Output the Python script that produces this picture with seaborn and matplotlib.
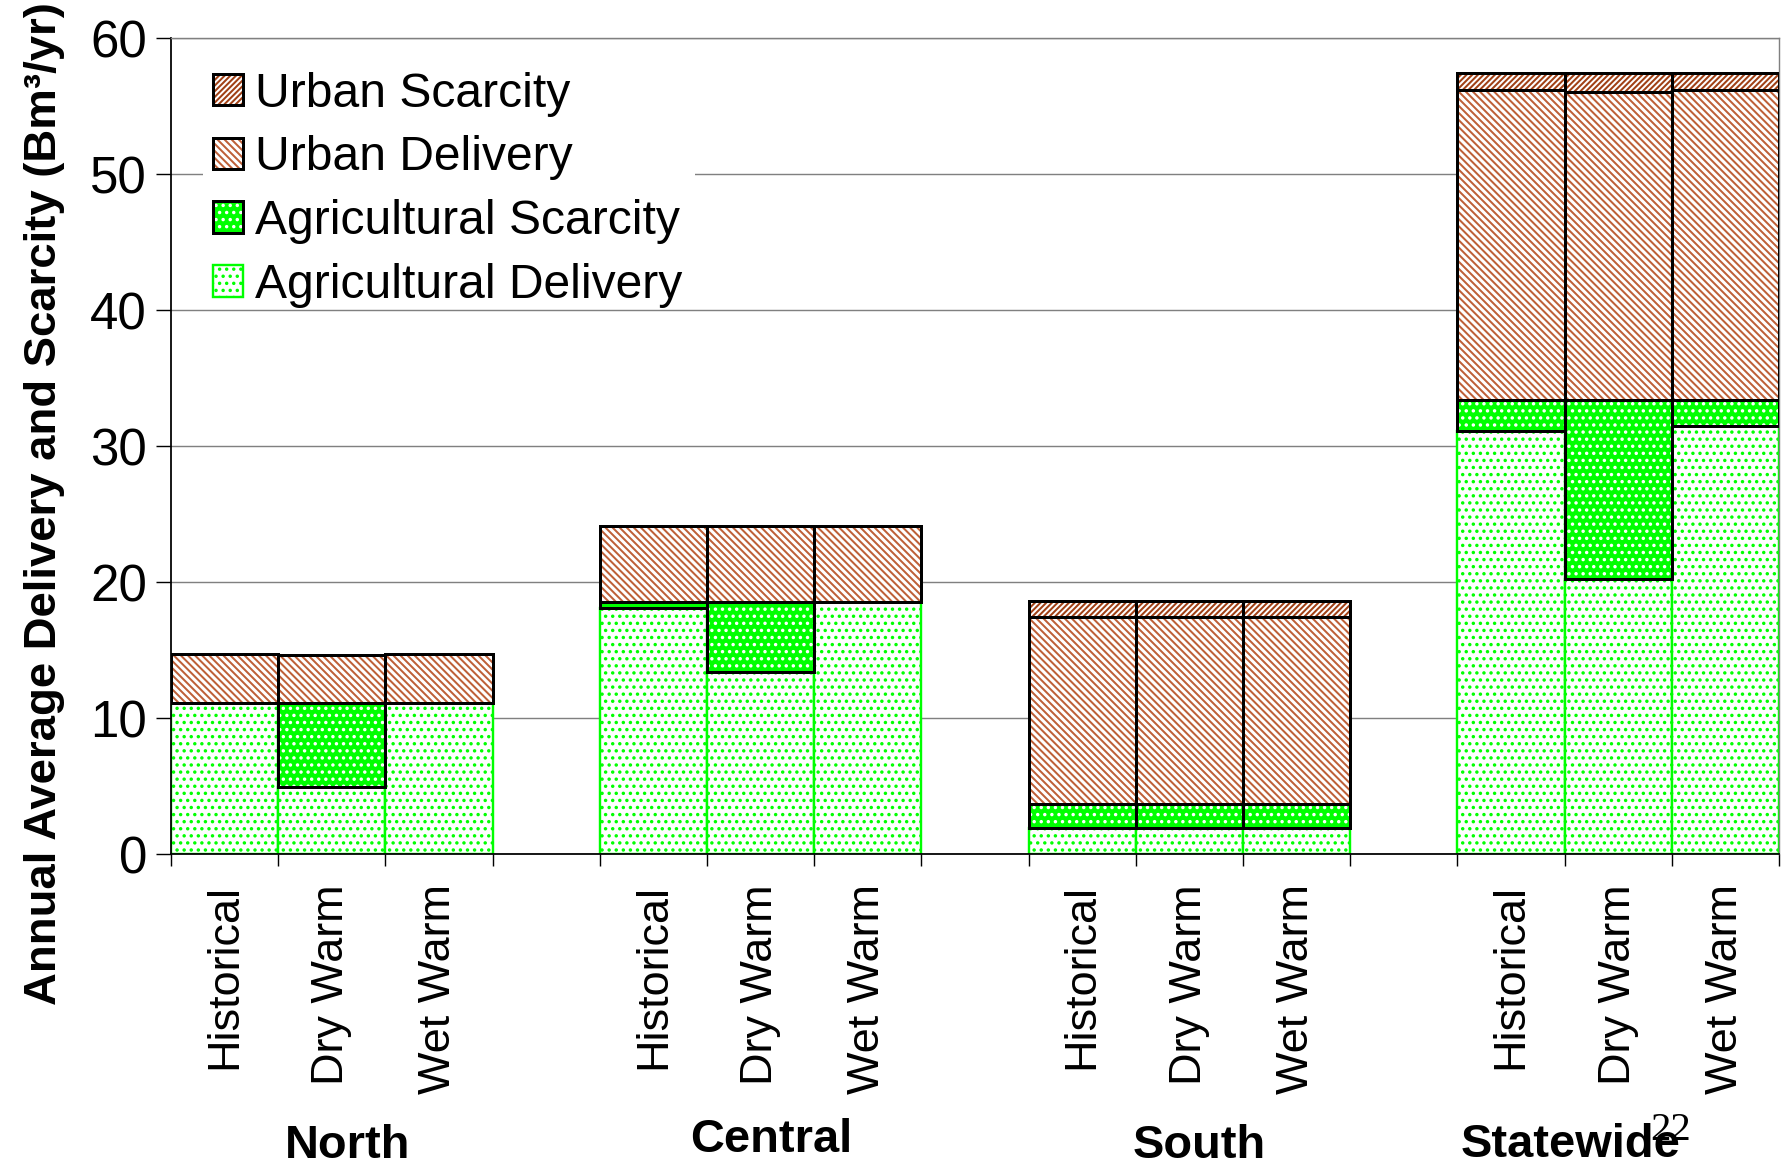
import numpy as np
import pandas as pd
import matplotlib
matplotlib.use("Agg")
import matplotlib.pyplot as plt
import seaborn as sns
from matplotlib.patches import Patch, Rectangle
from matplotlib.legend_handler import HandlerTuple
from matplotlib.ticker import NullFormatter
from matplotlib.transforms import blended_transform_factory

# ---------------- data ----------------
regions = ["North", "Central", "South", "Statewide"]
scenarios = ["Historical", "Dry Warm", "Wet Warm"]
ag_delivery    = [11.1, 4.9, 11.1, 18.1, 13.4, 18.5, 1.9, 1.9, 1.9, 31.1, 20.2, 31.5]
ag_scarcity    = [0.0, 6.2, 0.0, 0.4, 5.1, 0.0, 1.8, 1.8, 1.8, 2.3, 13.2, 1.9]
urban_delivery = [3.6, 3.5, 3.6, 5.6, 5.6, 5.6, 13.7, 13.7, 13.7, 22.8, 22.6, 22.8]
urban_scarcity = [0.0, 0.0, 0.0, 0.0, 0.0, 0.0, 1.2, 1.2, 1.2, 1.2, 1.4, 1.2]
yticks = [0, 10, 20, 30, 40, 50, 60]
legend_labels = ["Urban Scarcity", "Urban Delivery", "Agricultural Scarcity", "Agricultural Delivery"]
ylabel = "Annual Average Delivery and Scarcity (Bm\u00b3/yr)"
page_number = "22"

# ---------------- style ----------------
DPI = 85
W, H = 1788, 1168
def pt(px):
    return px * 72.0 / DPI

sns.set_style("white")
plt.rcParams["font.family"] = ["Liberation Sans", "DejaVu Sans"]
plt.rcParams["hatch.linewidth"] = 1.7
for k in ["text.color", "axes.labelcolor", "xtick.color", "ytick.color"]:
    plt.rcParams[k] = "black"

URB_D = "#BE6038"
URB_S = "#A04015"
GREEN = "#00FF00"
EDGE_LW = pt(3.0)
H_URB_D = "\\" * 4      # dense falling diagonal lines
H_URB_S = "/" * 5       # denser rising diagonal lines
H_DOTS = ".."

n_s = len(scenarios)
slot = n_s + 1
xpos = np.array([g * slot + s + 0.5 for g in range(len(regions)) for s in range(n_s)])

df = pd.DataFrame({
    "region": np.repeat(regions, n_s),
    "scenario": scenarios * len(regions),
    "x": xpos,
    "ag_del": ag_delivery,
    "ag_scar": ag_scarcity,
    "urb_del": urban_delivery,
    "urb_scar": urban_scarcity,
})
b_ag_scar = df["ag_del"].to_numpy()
b_urb_del = b_ag_scar + df["ag_scar"].to_numpy()
b_urb_scar = b_urb_del + df["urb_del"].to_numpy()

fig = plt.figure(figsize=(W / DPI, H / DPI), dpi=DPI)
ax = fig.add_axes([171 / W, 1 - 854 / H, (1779 - 171) / W, (854 - 38) / H])


def hatch_layer(col, bottom, face, hcol, hatch, lw=0.0):
    sns.barplot(data=df, x="x", y=col, native_scale=True, orient="x", width=1,
                errorbar=None, saturation=1, color=face, edgecolor=hcol,
                linewidth=lw, hatch=hatch, bottom=bottom, ax=ax, zorder=2)


def outline_layer(col, bottom, lw=EDGE_LW):
    sns.barplot(data=df, x="x", y=col, native_scale=True, orient="x", width=1,
                errorbar=None, saturation=1, fill=False, color="black",
                linewidth=lw, bottom=bottom, ax=ax, zorder=3)


# agricultural delivery (white with green dots, green edge)
hatch_layer("ag_del", None, "white", GREEN, H_DOTS, lw=pt(2.4))
# agricultural scarcity (green with white dots)
hatch_layer("ag_scar", b_ag_scar, GREEN, "white", H_DOTS)
# urban delivery (white with brown falling lines)
hatch_layer("urb_del", b_urb_del, "white", URB_D, H_URB_D)
# urban scarcity (white with dense darker rising lines)
hatch_layer("urb_scar", b_urb_scar, "white", URB_S, H_URB_S)

outline_layer("ag_scar", b_ag_scar)
outline_layer("urb_del", b_urb_del)
outline_layer("urb_scar", b_urb_scar)

# ---------------- axes ----------------
ax.set_xlim(0, slot * len(regions) - 1)
ax.set_ylim(0, 60)
ax.set_xlabel("")
ax.set_ylabel("")
ax.set_yticks(yticks)
ax.set_xticks(np.arange(0, slot * len(regions)))
ax.xaxis.set_major_formatter(NullFormatter())
ax.set_xticks(xpos, minor=True)
ax.set_xticklabels(scenarios * len(regions), minor=True)
ax.tick_params(axis="x", which="major", length=pt(12), width=1.2, color="black",
               direction="out", bottom=True)
ax.tick_params(axis="x", which="minor", length=0, pad=pt(30), labelsize=pt(45),
               labelrotation=90, bottom=True, labelcolor="black")
ax.tick_params(axis="y", length=pt(15), width=1.2, color="black", pad=pt(9),
               labelsize=pt(51), direction="out", left=True, labelcolor="black")
ax.yaxis.grid(True, color="#808080", lw=1.2)
ax.xaxis.grid(False)
ax.set_axisbelow(True)
for s in ["left", "bottom"]:
    ax.spines[s].set_color("black")
    ax.spines[s].set_linewidth(1.5)
for s in ["top", "right"]:
    ax.spines[s].set_color("#808080")
    ax.spines[s].set_linewidth(1.2)

# white block behind the legend that hides part of the 50 gridline
ax.add_patch(Rectangle(((203 - 171) / 1608, 0.78), (695 - 203) / 1608, 0.09,
                       transform=ax.transAxes, facecolor="white", edgecolor="none",
                       zorder=1))

# ---------------- legend ----------------
handles = [
    (Patch(facecolor="white", edgecolor=URB_S, hatch=H_URB_S, lw=0),
     Patch(facecolor="none", edgecolor="black", lw=EDGE_LW)),
    (Patch(facecolor="white", edgecolor=URB_D, hatch=H_URB_D, lw=0),
     Patch(facecolor="none", edgecolor="black", lw=EDGE_LW)),
    (Patch(facecolor=GREEN, edgecolor="white", hatch=H_DOTS, lw=0),
     Patch(facecolor="none", edgecolor="black", lw=EDGE_LW)),
    (Patch(facecolor="white", edgecolor=GREEN, hatch=H_DOTS, lw=pt(2.4)),),
]

leg = ax.legend(handles, legend_labels, loc="upper left",
                bbox_to_anchor=(203 / W, 1 - 62 / H), bbox_transform=fig.transFigure,
                frameon=False, fontsize=pt(48), handlelength=0.63, handleheight=0.63,
                handletextpad=0.26, labelspacing=0.39, borderpad=0.2, borderaxespad=0,
                labelcolor="black",
                handler_map={tuple: HandlerTuple(ndivide=1, pad=0)})

# ---------------- texts ----------------
trans = blended_transform_factory(ax.transData, fig.transFigure)
group_label_pos = [(1.65, 1146), (5.6, 1140), (9.59, 1146), (13.06, 1145)]
for name, (gx, gy) in zip(regions, group_label_pos):
    ax.text(gx, 1 - gy / H, name, transform=trans, ha="center", va="center",
            fontsize=pt(47), fontweight="bold", color="black", clip_on=False)

fig.text(45 / W, 1 - 504 / H, ylabel, rotation=90, ha="center", va="center",
         fontsize=pt(45.5), fontweight="bold", color="black")
fig.text(1671 / W, 1 - 1130 / H, page_number, ha="center", va="center",
         fontsize=pt(41), color="black", family=["Liberation Serif", "DejaVu Serif"])

fig.savefig("out.png", dpi=DPI)
